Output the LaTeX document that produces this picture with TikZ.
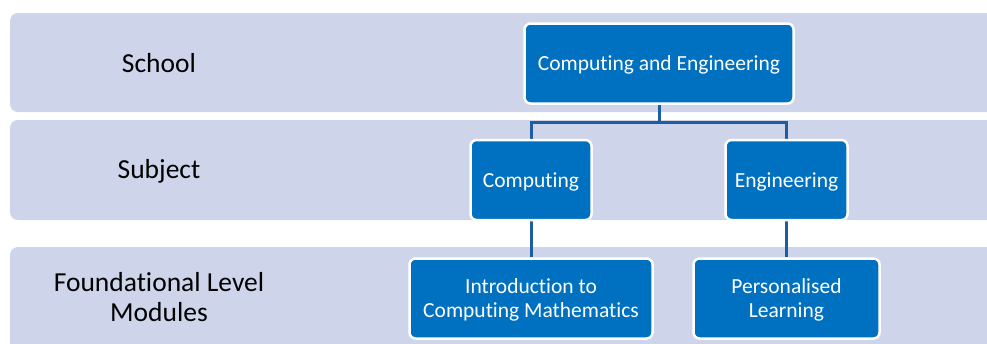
\documentclass[tikz,border=0pt]{standalone}
\usepackage{fontspec}
\setmainfont[Ligatures=NoCommon]{Carlito}
\usetikzlibrary{backgrounds}
\definecolor{bandblue}{RGB}{206,213,234}
\definecolor{boxblue}{RGB}{0,112,192}
\definecolor{linkblue}{RGB}{30,94,160}
\tikzset{
  band/.style={fill=bandblue,rounded corners=8pt},
  level/.style={align=center,font=\fontsize{27.5}{30}\selectfont},
  unit/.style={draw=white,line width=2.5pt,fill=boxblue,rounded corners=6pt,
    text=white,align=center,font=\fontsize{21.5}{24}\selectfont,
    inner sep=0pt,minimum height=80pt,text depth=0pt},
  link/.style={draw=linkblue,line width=3pt}
}
\begin{document}
\begin{tikzpicture}[x=1pt,y=-1pt]
\useasboundingbox (0,0) rectangle (987,343);
\clip (0,0) rectangle (987,343);
% level labels
\node[level] (school) at (159,63) {School};
\node[level] (subject) at (159,171) {Subject};
\node[level] (found) at (159,297) {Foundational Level\\Modules};
% units
\node[unit,minimum width=269pt] (ce) at (659,63.5) {Computing and Engineering};
\node[unit,minimum width=121pt] (comp) at (531,180) {Computing};
\node[unit,minimum width=122pt] (eng) at (786.5,180) {Engineering};
\node[unit,minimum width=243pt] (intro) at (531,298.5) {Introduction to\\Computing Mathematics};
\node[unit,minimum width=186pt] (pers) at (786.5,298.5) {Personalised\\Learning};
\begin{scope}[on background layer]
% bands
\fill[band] (10,13) rectangle (1010,112);
\fill[band] (10,120) rectangle (1010,220);
\fill[band] (10,247) rectangle (1010,360);
% connectors
\coordinate (fork) at (659,122);
\draw[link] (ce.south) -- (fork) -| (comp.north);
\draw[link] (fork) -| (eng.north);
\draw[link] (comp.south) -- (intro.north);
\draw[link] (eng.south) -- (pers.north);
\end{scope}
\end{tikzpicture}
\end{document}
